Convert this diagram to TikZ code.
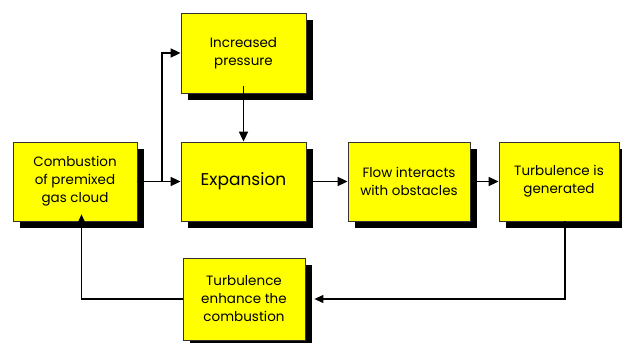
\documentclass[tikz,border=0pt]{standalone}
\usepackage{fontspec}
\setmainfont{Poppins}
\usetikzlibrary{shadows,arrows.meta}
\definecolor{boxyellow}{RGB}{255,255,0}
\begin{document}
\begin{tikzpicture}[x=1pt,y=-1pt,
  box/.style={draw=black!80, line width=0.8pt, fill=boxyellow, align=center,
    font=\fontsize{13.5}{18}\selectfont, inner sep=0pt,
    drop shadow={shadow xshift=7pt, shadow yshift=-7pt, fill=black, opacity=1}},
  conn/.style={line width=1.7pt, -{Triangle[length=10pt,width=9pt]}},
  thin/.style={line width=1.1pt, -{Triangle[length=9pt,width=8pt]}}]
\useasboundingbox (0,0) rectangle (622,343);
\begin{scope}
\clip (0,0) rectangle (622,343);
\node[box, minimum width=124pt, minimum height=79pt] (comb) at (75,181.5) {Combustion\\of premixed\\gas cloud};
\node[box, minimum width=125pt, minimum height=80pt] (inc) at (243.5,53) {Increased\\pressure};
\node[box, minimum width=125pt, minimum height=79pt, font=\fontsize{17}{20}\selectfont] (exp) at (243.5,181.5) {Expansion};
\node[box, minimum width=122pt, minimum height=79pt] (flow) at (409,181.5) {Flow interacts\\with obstacles};
\node[box, minimum width=120pt, minimum height=79pt] (turb) at (559,181.5) {Turbulence is\\generated};
\node[box, minimum width=122pt, minimum height=82pt] (enh) at (244,299) {Turbulence\\enhance the\\combustion};
\end{scope}
\coordinate (br) at (162,181.5);
\draw[conn] (comb.east) -- (exp.west);
\draw[conn] (br) |- (inc.west);
\draw[conn] ([yshift=7pt]inc.south) -- (exp.north);
\draw[conn] ([xshift=7pt]exp.east) -- (flow.west);
\draw[conn] ([xshift=7pt]flow.east) -- (turb.west);
\draw[thin] (turb.south -| 565,0) |- ([xshift=9pt]enh.east);
\draw[thin] (enh.west) -| ([yshift=7pt]comb.south -| 81.5,0);
\end{tikzpicture}
\end{document}
